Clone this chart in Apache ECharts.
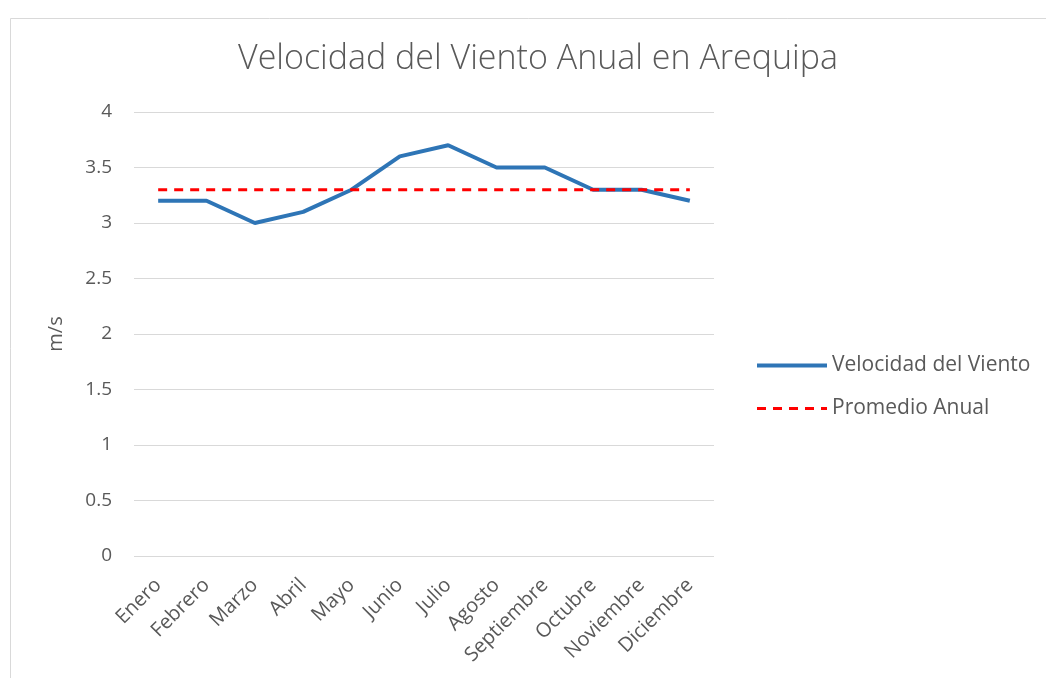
<!DOCTYPE html>
<html>
<head>
<meta charset="utf-8">
<script src="https://cdn.jsdelivr.net/npm/echarts@6/dist/echarts.min.js"></script>
<style>
  html, body { margin: 0; padding: 0; background: #fff; }
  #main { width: 1046px; height: 678px; }
</style>
</head>
<body>
<div id="main"></div>
<script>
const months = ['Enero', 'Febrero', 'Marzo', 'Abril', 'Mayo', 'Junio', 'Julio',
    'Agosto', 'Septiembre', 'Octubre', 'Noviembre', 'Diciembre'];
const velocidad = [3.2, 3.2, 3.0, 3.1, 3.3, 3.6, 3.7, 3.5, 3.5, 3.3, 3.3, 3.2];
const promedio = [3.3, 3.3, 3.3, 3.3, 3.3, 3.3, 3.3, 3.3, 3.3, 3.3, 3.3, 3.3];

const chart = echarts.init(document.getElementById('main'));
const textColor = '#595959';
const font = 'Open Sans, sans-serif';

const option = {
    backgroundColor: '#fff',
    animation: false,
    graphic: [{
        type: 'rect',
        shape: { x: 10.5, y: 18.5, width: 1100, height: 700 },
        style: { fill: 'none', stroke: '#d9d9d9', lineWidth: 1 },
        silent: true
    }],
    title: {
        text: 'Velocidad del Viento Anual en Arequipa',
        left: 533,
        textAlign: 'center',
        top: 37,
        textStyle: { color: textColor, fontSize: 34, fontWeight: 300, fontFamily: font }
    },
    grid: { left: 134, right: 332, top: 112, bottom: 122 },
    legend: {
        orient: 'vertical',
        left: 750,
        top: 350,
        itemWidth: 70,
        itemHeight: 14,
        itemGap: 22,
        textStyle: { color: textColor, fontSize: 21, fontFamily: font },
        data: [
            { name: 'Velocidad del Viento', itemStyle: { opacity: 0 }, lineStyle: { width: 4, color: '#2e75b6' } },
            { name: 'Promedio Anual', itemStyle: { opacity: 0 }, lineStyle: { width: 3, color: '#ff0000', type: [9, 7] } }
        ]
    },
    xAxis: {
        type: 'category',
        data: months,
        boundaryGap: true,
        axisLine: { show: false },
        axisTick: { show: false },
        axisLabel: {
            rotate: 45,
            color: textColor,
            fontSize: 20,
            fontFamily: font,
            margin: 26,
            interval: 0
        }
    },
    yAxis: {
        type: 'value',
        min: 0,
        max: 4,
        interval: 0.5,
        name: 'm/s',
        nameLocation: 'middle',
        nameGap: 68,
        nameTextStyle: { color: textColor, fontSize: 20, fontFamily: font },
        axisLabel: { color: textColor, fontSize: 19, fontFamily: font, margin: 22 },
        splitLine: { lineStyle: { color: '#d9d9d9', width: 1 } }
    },
    series: [
        {
            name: 'Velocidad del Viento',
            type: 'line',
            data: velocidad,
            symbol: 'none',
            lineStyle: { color: '#2e75b6', width: 4 },
            itemStyle: { color: '#2e75b6' }
        },
        {
            name: 'Promedio Anual',
            type: 'line',
            data: promedio,
            symbol: 'none',
            lineStyle: { color: '#ff0000', width: 3, type: [9, 7] },
            itemStyle: { color: '#ff0000' }
        }
    ]
};

chart.setOption(option);
</script>
</body>
</html>
